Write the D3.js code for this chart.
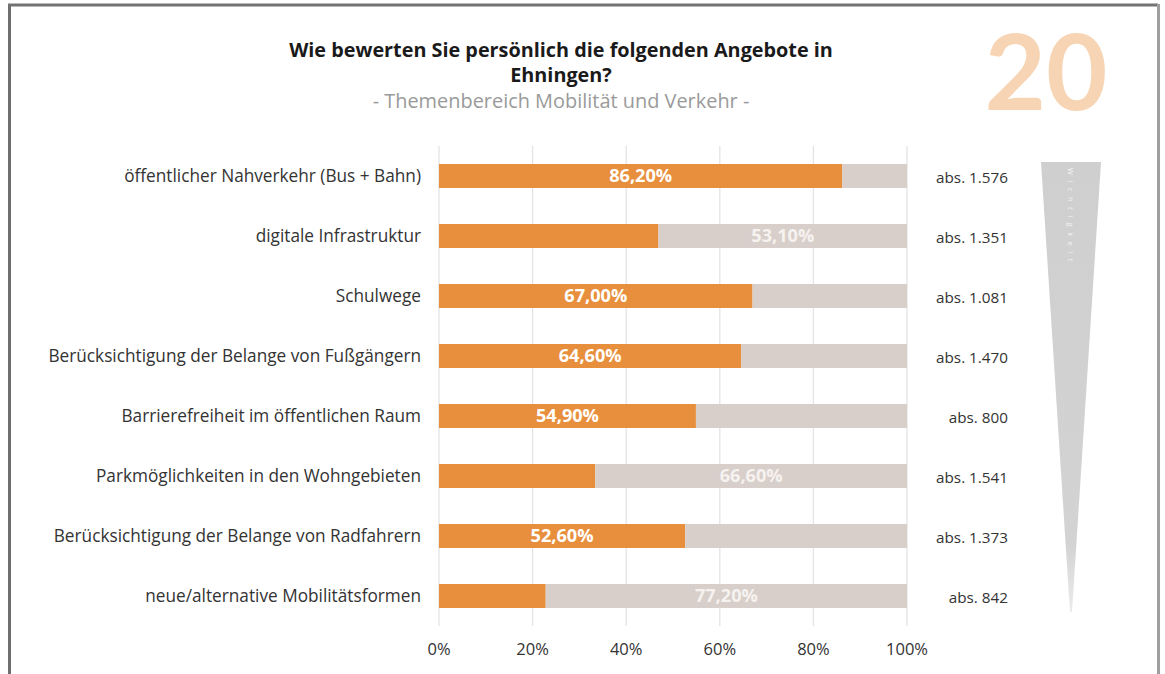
<!DOCTYPE html>
<html><head><meta charset="utf-8">
<script src="https://cdn.jsdelivr.net/npm/d3@7"></script>
<style>html,body{margin:0;padding:0;background:#fff;}svg{display:block;}</style>
</head><body>
<script>
const categories = [
  "öffentlicher Nahverkehr (Bus + Bahn)",
  "digitale Infrastruktur",
  "Schulwege",
  "Berücksichtigung der Belange von Fußgängern",
  "Barrierefreiheit im öffentlichen Raum",
  "Parkmöglichkeiten in den Wohngebieten",
  "Berücksichtigung der Belange von Radfahrern",
  "neue/alternative Mobilitätsformen"
];
const positive = [86.2, 46.9, 67.0, 64.6, 54.9, 33.4, 52.6, 22.8];
const negative = [13.8, 53.1, 33.0, 35.4, 45.1, 66.6, 47.4, 77.2];
const absLabels = ["abs. 1.576","abs. 1.351","abs. 1.081","abs. 1.470","abs. 800","abs. 1.541","abs. 1.373","abs. 842"];
const tickValues = [0, 20, 40, 60, 80, 100];
const titleLines = ["Wie bewerten Sie persönlich die folgenden Angebote in", "Ehningen?"];
const subtitle = "- Themenbereich Mobilität und Verkehr -";
const pageNumber = "20";
const sideLabel = "Wichtigkeit";

const W = 1165, H = 674;
const FONT = "'Open Sans', 'Noto Sans', sans-serif";
const svg = d3.select("body").append("svg").attr("width", W).attr("height", H);

// measure helper: font size giving a target width
function fitSize(txt, weight, target) {
  const t = svg.append("text").attr("font-family", FONT).attr("font-weight", weight)
    .attr("font-size", 100).text(txt);
  const w = t.node().getComputedTextLength();
  t.remove();
  return 100 * target / w;
}
const catSize = fitSize(categories[0], "normal", 297);
const titleSize = fitSize(titleLines[0], "bold", 544);
const subSize = fitSize(subtitle, "normal", 377);
const valSize = fitSize("86,20%", "bold", 63);
const absSize = fitSize(absLabels[0], "normal", 72);
const tickSize = fitSize("100%", "normal", 42);

// frame
svg.append("line").attr("x1",9.5).attr("x2",9.5).attr("y1",4).attr("y2",H).attr("stroke","#6e6e6e").attr("stroke-width",3);
svg.append("line").attr("x1",8).attr("x2",1158).attr("y1",5).attr("y2",5).attr("stroke","#737373").attr("stroke-width",3);
svg.append("line").attr("x1",1158.5).attr("x2",1158.5).attr("y1",4).attr("y2",H).attr("stroke","#9e9e9e").attr("stroke-width",3);

// title (two separate lines)
svg.append("g").selectAll("text").data(titleLines).join("text")
  .attr("text-anchor","middle").attr("font-family",FONT)
  .attr("font-weight","bold").attr("font-size",titleSize).attr("fill","#1a1a1a")
  .attr("x",561).attr("y",(d,i)=>57+i*25).text(d=>d);
svg.append("text").attr("x",561).attr("y",108).attr("text-anchor","middle").attr("font-family",FONT)
  .attr("font-size",subSize).attr("fill","#9a9a9a").text(subtitle);

// page number
svg.append("text").attr("x",1046).attr("y",110).attr("text-anchor","middle").attr("font-family","Lato, sans-serif")
  .attr("font-weight","bold").attr("font-size",106).attr("fill","#f7d5b4").text(pageNumber);

// scales
const x = d3.scaleLinear().domain([0,100]).range([439,907]);
const y = d3.scaleBand().domain(categories).range([146,626]).paddingInner(0.6).paddingOuter(0.3);

// grid
svg.append("g").selectAll("line").data(tickValues).join("line")
  .attr("x1",d=>x(d)).attr("x2",d=>x(d)).attr("y1",146).attr("y2",626)
  .attr("stroke","#e4e4e4").attr("stroke-width",1.3);

// bars
const rows = svg.append("g").selectAll("g").data(categories).join("g");
rows.append("rect").attr("x",(d,i)=>x(0)).attr("y",d=>y(d)).attr("height",y.bandwidth())
  .attr("width",(d,i)=>x(positive[i])-x(0)).attr("fill","#e88f3d");
rows.append("rect").attr("x",(d,i)=>x(positive[i])).attr("y",d=>y(d)).attr("height",y.bandwidth())
  .attr("width",(d,i)=>x(positive[i]+negative[i])-x(positive[i])).attr("fill","#d8cfca");

// value labels in larger segment
rows.append("text").attr("text-anchor","middle").attr("font-family",FONT).attr("font-weight","bold")
  .attr("font-size",valSize).attr("fill",(d,i)=>positive[i]>=negative[i]?"#ffffff":"#f6f2f0")
  .attr("x",(d,i)=>positive[i]>=negative[i]?x(positive[i]/2):x(positive[i]+negative[i]/2))
  .attr("y",d=>y(d)+y.bandwidth()/2+5.5)
  .text((d,i)=>(positive[i]>=negative[i]?positive[i]:negative[i]).toFixed(2).replace(".",",")+"%");

// category labels
rows.append("text").attr("text-anchor","end").attr("font-family",FONT).attr("font-size",catSize)
  .attr("fill","#333").attr("x",421).attr("y",d=>y(d)+y.bandwidth()/2+5.5).text(d=>d);

// abs labels
rows.append("text").attr("text-anchor","end").attr("font-family",FONT).attr("font-size",absSize)
  .attr("fill","#333").attr("x",1008).attr("y",d=>y(d)+y.bandwidth()/2+7).text((d,i)=>absLabels[i]);

// x axis labels
svg.append("g").selectAll("text").data(tickValues).join("text")
  .attr("x",d=>x(d)).attr("y",655).attr("text-anchor","middle").attr("font-family",FONT)
  .attr("font-size",tickSize).attr("fill","#333").text(d=>d+"%");

// importance triangle
const defs = svg.append("defs");
const grad = defs.append("linearGradient").attr("id","tri").attr("x1",0).attr("x2",0).attr("y1",0).attr("y2",1);
grad.append("stop").attr("offset","0%").attr("stop-color","#cfcfcf");
grad.append("stop").attr("offset","85%").attr("stop-color","#d3d3d3");
grad.append("stop").attr("offset","100%").attr("stop-color","#ececec");
svg.append("path").attr("d","M1041,162 L1101,162 L1072,612 L1070,612 Z").attr("fill","url(#tri)");
svg.append("text").attr("transform","translate(1068,168) rotate(90)").attr("font-family",FONT)
  .attr("font-size",7.5).attr("letter-spacing",5.5).attr("fill","#ffffff").attr("fill-opacity",0.8).text(sideLabel);
</script>
</body></html>
